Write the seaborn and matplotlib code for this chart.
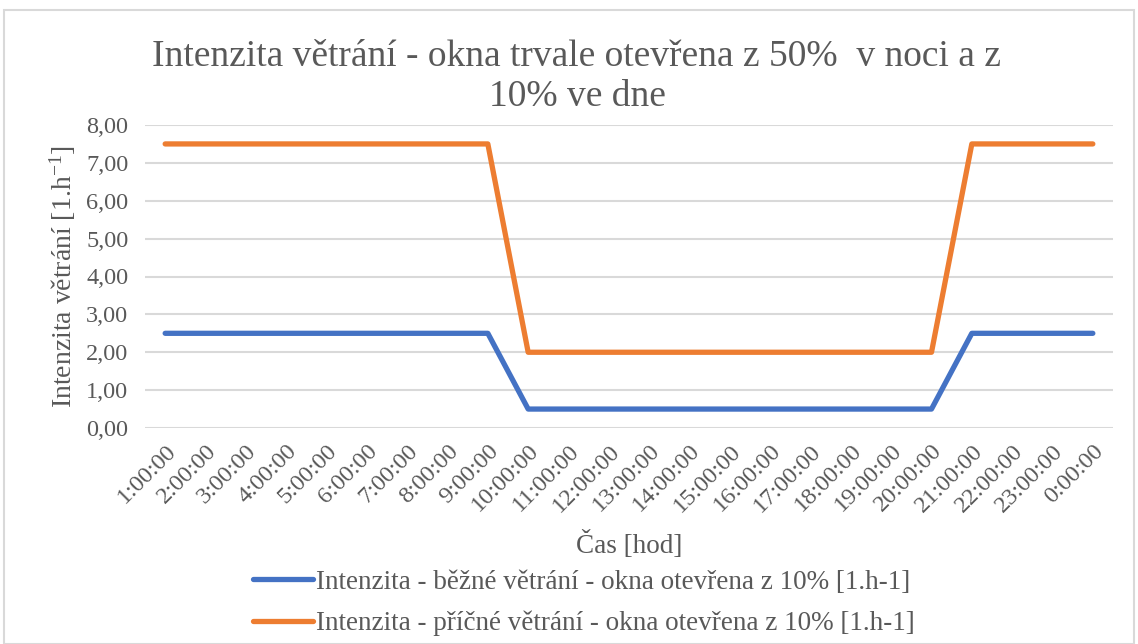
import pandas as pd
import seaborn as sns
import matplotlib.pyplot as plt
from matplotlib.patches import Rectangle
from matplotlib.ticker import FuncFormatter

# data
hours = ['1:00:00', '2:00:00', '3:00:00', '4:00:00', '5:00:00', '6:00:00',
         '7:00:00', '8:00:00', '9:00:00', '10:00:00', '11:00:00', '12:00:00',
         '13:00:00', '14:00:00', '15:00:00', '16:00:00', '17:00:00', '18:00:00',
         '19:00:00', '20:00:00', '21:00:00', '22:00:00', '23:00:00', '0:00:00']
bezne = [2.5] * 9 + [0.5] * 11 + [2.5] * 4
pricne = [7.5] * 9 + [2.0] * 11 + [7.5] * 4
names = ['Intenzita - běžné větrání - okna otevřena z 10% [1.h-1]',
         'Intenzita - příčné větrání - okna otevřena z 10% [1.h-1]']
colors = ['#4472C4', '#ED7D31']

txt = '#595959'
grid_c = '#D9D9D9'

sns.set_theme(style='white')
plt.rcParams['font.family'] = ['Liberation Serif', 'DejaVu Serif']
plt.rcParams['mathtext.fontset'] = 'custom'
plt.rcParams['mathtext.rm'] = 'Liberation Serif'
plt.rcParams['mathtext.it'] = 'Liberation Serif:italic'

df = pd.DataFrame({
    'hod': hours * 2,
    'val': bezne + pricne,
    'serie': [names[0]] * len(hours) + [names[1]] * len(hours),
})
df['x'] = list(range(len(hours))) * 2

fig = plt.figure(figsize=(11.38, 6.44), dpi=100)
ax = fig.add_axes([145 / 1138, 1 - 428 / 644, (1113 - 145) / 1138, (428 - 125) / 644])

sns.lineplot(data=df, x='x', y='val', hue='serie', palette=colors, lw=3.8,
             ax=ax, solid_capstyle='round', legend=False)

ax.set_xlim(-0.5, len(hours) - 0.5)
ax.set_ylim(0, 8)
ax.set_yticks(range(0, 9))
ax.yaxis.set_major_formatter(FuncFormatter(lambda v, p: f'{v:.2f}'.replace('.', ',')))
ax.set_xticks(range(len(hours)))
ax.set_xticklabels(hours, rotation=45, ha='right', rotation_mode='anchor')
ax.tick_params(axis='both', length=0, labelsize=17.5, labelcolor=txt)
ax.tick_params(axis='x', pad=9)
ax.tick_params(axis='y', pad=12)
ax.grid(axis='y', color=grid_c, lw=1.5)
ax.set_axisbelow(True)
sns.despine(ax=ax, left=True, bottom=True)

ax.set_xlabel('')
ax.set_ylabel(r'Intenzita větrání [1.h$^{\mathregular{-1}}$]', fontsize=20, color=txt, labelpad=6)
fig.text(629 / 1138, 1 - 545 / 644, 'Čas [hod]', fontsize=19.5, color=txt, ha='center', va='center')

fig.text(577 / 1138, 1 - 77 / 644,
         'Intenzita větrání - okna trvale otevřena z 50%  v noci a z\n10% ve dne',
         fontsize=27, color=txt, ha='center', va='center', linespacing=1.2)

handles = [plt.Line2D([], [], color=c, lw=3.8, solid_capstyle='round') for c in colors]
fig.legend(handles, names, loc='upper center', bbox_to_anchor=(584 / 1138, 1 - 556 / 644),
           frameon=False, fontsize=19.5, labelcolor=txt, handlelength=2.2,
           handletextpad=0.1, labelspacing=0.6, borderpad=0)

fig.patches.append(Rectangle((4 / 1138, 0), 1130 / 1138, 1 - 10 / 644, transform=fig.transFigure,
                             fill=False, edgecolor=grid_c, lw=1.5))

fig.savefig('out.png', dpi=100)
